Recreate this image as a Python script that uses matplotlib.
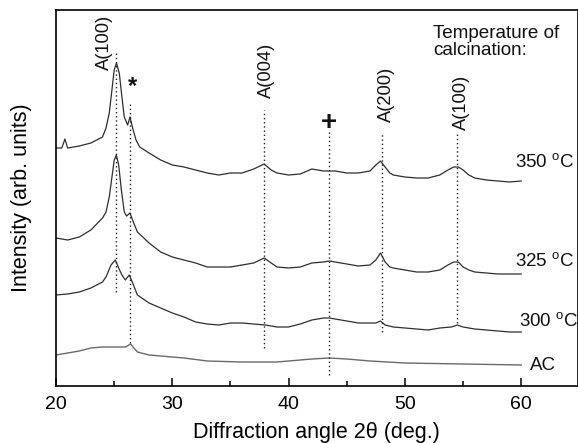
import matplotlib
matplotlib.use("Agg")
import matplotlib.pyplot as plt
from matplotlib.ticker import MultipleLocator

plt.rcParams['font.family'] = ['Liberation Sans', 'DejaVu Sans']
plt.rcParams['mathtext.fontset'] = 'custom'
plt.rcParams['mathtext.rm'] = 'Liberation Sans'

# ---- data (intensity in arbitrary units) ----
x_350 = [20, 20.5, 20.77, 21.0, 22, 23, 24, 24.3, 24.58, 24.81, 25.0, 25.2, 25.44, 25.67, 25.87,
         26.16, 26.36, 26.59, 26.88, 27.2, 28, 29, 30, 31, 32, 33, 34, 35, 36, 37, 37.9, 38.5,
         39, 40, 41, 42, 43, 44, 45, 46, 47, 47.5, 47.9, 48.3, 48.7, 49, 50, 51, 52, 53, 53.7,
         54.2, 54.6, 55, 55.5, 56, 57, 58, 59, 60]
y_350 = [238, 238, 247, 238, 240, 243, 249, 258, 273, 296, 316, 323, 313, 289, 269,
         261, 269, 258, 246, 239, 233, 226, 221, 219, 216, 213, 211, 213, 213, 217, 222, 216,
         213, 211, 212, 217, 215, 215, 213, 213, 215, 221, 225, 219, 213, 211, 209, 208, 208, 211, 216,
         219, 219, 216, 211, 208, 206, 205, 204, 205]

x_325 = [20, 21, 22, 23, 24, 24.3, 24.58, 24.81, 25.01, 25.19, 25.39, 25.62, 25.87, 26.07, 26.36,
         26.65, 27, 28, 29, 30, 31, 32, 33, 34, 35, 36, 37, 37.9, 38.5, 39, 40, 41, 42, 43, 43.5,
         44, 45, 46, 47, 47.5, 47.9, 48.3, 48.7, 49, 50, 51, 52, 53, 53.7, 54.2, 54.6, 55, 55.5,
         56, 57, 58, 59, 60]
y_325 = [148, 146, 149, 156, 168, 174, 189, 209, 226, 231, 221, 196, 174, 170, 173,
         164, 154, 143, 134, 129, 126, 123, 119, 119, 119, 121, 123, 128, 123, 119, 118, 119, 123, 124, 125,
         124, 122, 120, 121, 126, 133, 124, 119, 118, 116, 114, 114, 116, 121, 124, 124, 119, 116,
         114, 113, 112, 112, 112]

x_300 = [20, 21, 22, 23, 24, 24.3, 24.73, 25.1, 25.39, 25.67, 25.96, 26.3, 26.59, 27, 28, 29, 30,
         31, 32, 33, 34, 35, 36, 37, 38, 39, 40, 41, 42, 43, 43.5, 44, 45, 46, 47, 47.5, 47.9,
         48.3, 49, 50, 51, 52, 53, 54, 54.5, 55, 56, 57, 58, 59, 60]
y_300 = [91, 92, 94, 98, 104, 109, 121, 126, 118, 111, 106, 111, 103, 91, 83, 78, 73,
         69, 64, 62, 61, 63, 63, 62, 61, 59, 59, 62, 66, 68, 68, 67, 65, 63, 63, 63, 65,
         61, 59, 58, 57, 56, 58, 59, 61, 59, 57, 56, 55, 54, 54]

x_ac = [20, 21, 22, 23, 24, 25, 26, 26.4, 27, 28, 29, 30, 31, 33, 36, 39, 42, 43.5, 45, 47,
        50, 55, 60]
y_ac = [31, 33, 35, 38, 39, 39, 39, 42, 34, 31, 30, 29, 28, 25, 24, 24, 27, 28, 27, 25,
        23, 22, 21]

# reference peak positions: (2theta, lower end, upper end)
peak_x = [25.2, 26.36, 37.9, 43.5, 48.0, 54.5]
peak_lo = [94, 43, 38, 11, 54, 63]
peak_hi = [334, 284, 276, 256, 253, 253]

peak_labels = ["A(100)", "A(004)", "A(200)", "A(100)"]
peak_label_x = [24.2, 38.1, 48.4, 54.9]
peak_label_y = [316, 288, 264, 256]

series_labels = [r"350 $^{\rm o}$C", r"325 $^{\rm o}$C", r"300 $^{\rm o}$C", "AC"]
series_label_x = [59.5, 59.5, 59.8, 60.75]
series_label_y = [223, 124, 64, 21]

# ---- figure ----
fig = plt.figure(figsize=(5.78, 4.43), dpi=100)
ax = fig.add_axes([56 / 578, 57 / 443, 521.5 / 578, 376 / 443])

dark = "#2e2e2e"
ax.plot(x_350, y_350, color=dark, lw=0.9)
ax.plot(x_325, y_325, color=dark, lw=0.9)
ax.plot(x_300, y_300, color=dark, lw=0.9)
ax.plot(x_ac, y_ac, color="#6a6a6a", lw=1.0)

for px, lo, hi in zip(peak_x, peak_lo, peak_hi):
    ax.plot([px, px], [lo, hi], color="#222222", lw=1.0, linestyle=(0, (1, 2)))

for t, lx, ly in zip(peak_labels, peak_label_x, peak_label_y):
    ax.text(lx, ly, t, rotation=90, ha="center", va="bottom", fontsize=13.2, color="#111111")

ax.text(26.6, 299, "*", ha="center", va="center", fontsize=17, fontweight="bold", color="#111111")
ax.text(43.5, 263, "+", ha="center", va="center", fontsize=20, fontweight="bold", color="#111111")

ax.text(52.4, 361, "Temperature of\ncalcination:", ha="left", va="top", fontsize=13.6,
        color="#111111", linespacing=1.0)

for t, lx, ly in zip(series_labels, series_label_x, series_label_y):
    ax.text(lx, ly, t, ha="left", va="center", fontsize=13.5, color="#111111")

ax.set_xlim(20, 64.84)
ax.set_ylim(0, 376)
ax.xaxis.set_major_locator(MultipleLocator(10))
ax.xaxis.set_minor_locator(MultipleLocator(5))
ax.tick_params(axis="x", which="major", direction="in", length=6, width=1.1, labelsize=14,
               pad=7, top=False)
ax.tick_params(axis="x", which="minor", direction="in", length=3.5, width=1.1, top=False)
ax.set_yticks([])
for s in ax.spines.values():
    s.set_linewidth(1.2)

ax.set_xlabel("Diffraction angle 2\u03b8 (deg.)", fontsize=15.5, labelpad=7)
ax.set_ylabel("Intensity (arb. units)", fontsize=15.5, labelpad=17)

fig.savefig("out.png", dpi=100)
